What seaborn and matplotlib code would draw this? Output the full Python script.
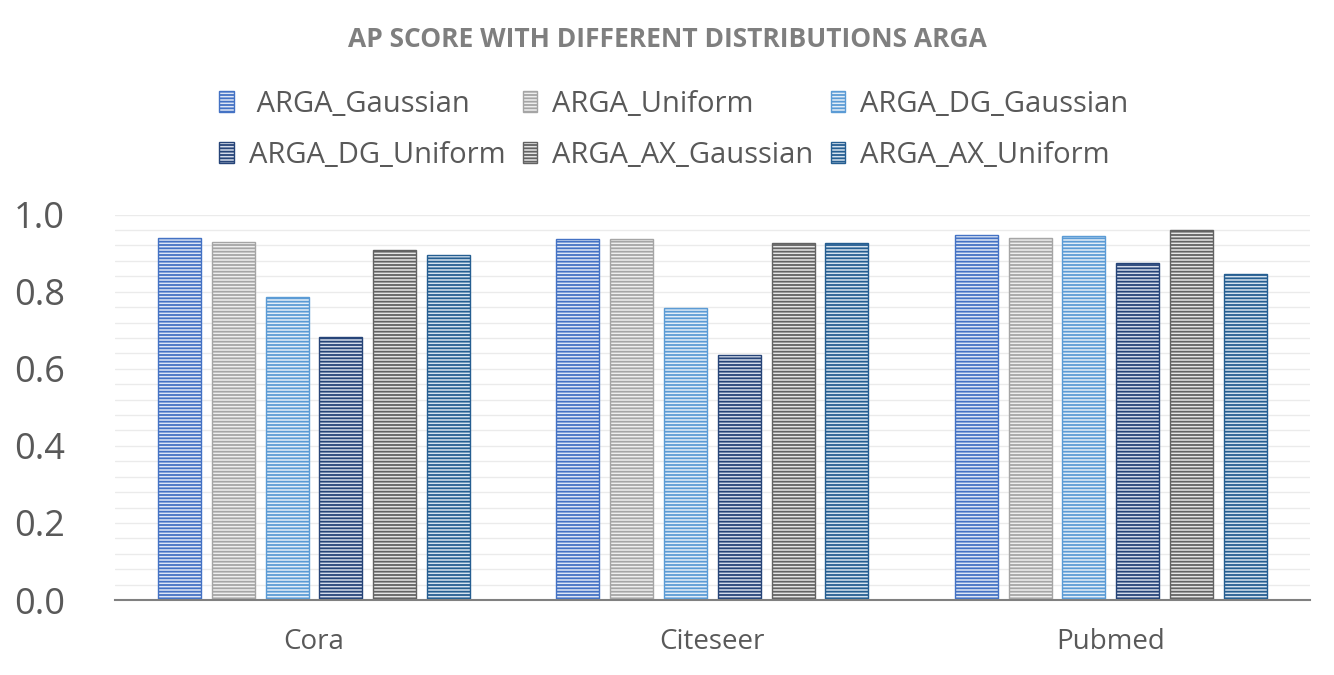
import matplotlib
matplotlib.use("Agg")
import matplotlib.pyplot as plt
import matplotlib.ticker as mticker
import pandas as pd
import seaborn as sns

datasets = ["Cora", "Citeseer", "Pubmed"]
models = ["ARGA_Gaussian", "ARGA_Uniform", "ARGA_DG_Gaussian",
          "ARGA_DG_Uniform", "ARGA_AX_Gaussian", "ARGA_AX_Uniform"]
arga_gaussian = [0.940, 0.938, 0.948]
arga_uniform = [0.928, 0.938, 0.940]
arga_dg_gaussian = [0.787, 0.758, 0.945]
arga_dg_uniform = [0.683, 0.636, 0.875]
arga_ax_gaussian = [0.907, 0.927, 0.961]
arga_ax_uniform = [0.896, 0.927, 0.847]

colors = ["#4472C4", "#A5A5A5", "#5B9BD5", "#264478", "#636363", "#255E91"]
faces = ["#dfe7f5", "#efefef", "#e3eef8", "#d5dcea", "#e6e6e6", "#d6e3ef"]

rows = []
for m, vals in zip(models, [arga_gaussian, arga_uniform, arga_dg_gaussian,
                            arga_dg_uniform, arga_ax_gaussian, arga_ax_uniform]):
    for d, v in zip(datasets, vals):
        rows.append({"dataset": d, "model": m, "AP": v})
df = pd.DataFrame(rows)

sns.set_style("white")
plt.rcParams["font.family"] = ["Open Sans", "DejaVu Sans"]
plt.rcParams["hatch.linewidth"] = 1.3

fig = plt.figure(figsize=(13.34, 6.75), dpi=100)
ax = fig.add_axes([0.086, 0.111, 0.896, 0.571])

sns.barplot(data=df, x="dataset", y="AP", hue="model", hue_order=models,
            order=datasets, palette=colors, width=0.81, gap=0.2, ax=ax,
            legend=False)

# striped fill: light face, dense horizontal hatch in the series colour
for cont, col, fc in zip(ax.containers, colors, faces):
    for bar in cont:
        bar.set_facecolor(fc)
        bar.set_edgecolor(col)
        bar.set_hatch("-----")
        bar.set_linewidth(1.0)

ax.set_ylim(0, 1.0)
ax.set_xlim(-0.5, 2.5)
ax.yaxis.set_major_locator(mticker.MultipleLocator(0.2))
ax.yaxis.set_minor_locator(mticker.MultipleLocator(0.04))
ax.yaxis.set_major_formatter(mticker.FormatStrFormatter("%.1f"))
ax.grid(axis="y", which="both", color="#ebebeb", linewidth=1.0)
ax.set_axisbelow(True)
for s in ["top", "right", "left"]:
    ax.spines[s].set_visible(False)
ax.spines["bottom"].set_color("#808080")
ax.spines["bottom"].set_linewidth(1.5)
ax.tick_params(axis="y", labelsize=26, labelcolor="#595959", length=0, pad=36)
ax.tick_params(axis="x", labelsize=20, labelcolor="#595959", length=0, pad=20)
ax.set_xlabel("")
ax.set_ylabel("")

handles = list(ax.containers)
order = [0, 3, 1, 4, 2, 5]
labels = [" " + models[0]] + models[1:]
leg = fig.legend([handles[i] for i in order], [labels[i] for i in order],
                 ncol=3, loc="center", bbox_to_anchor=(0.505, 0.808),
                 frameon=False, fontsize=21, handlelength=0.5,
                 handleheight=0.7, handletextpad=0.5, columnspacing=0.6,
                 labelspacing=0.75)
for t in leg.get_texts():
    t.set_color("#595959")

fig.text(0.5, 0.941, "AP SCORE WITH DIFFERENT DISTRIBUTIONS ARGA",
         ha="center", va="center", fontsize=19, fontweight="bold",
         color="#7f7f7f")

fig.savefig("out.png", dpi=100)
